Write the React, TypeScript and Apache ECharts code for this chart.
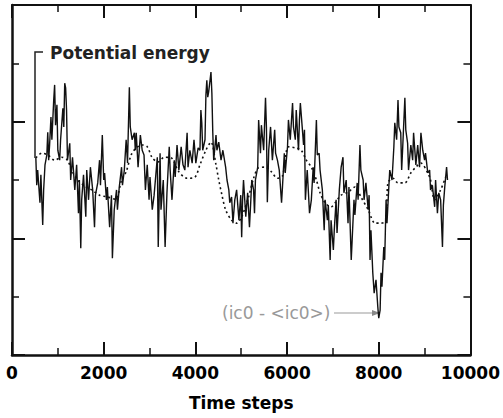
import React, { useEffect, useRef } from "react";
import * as echarts from "echarts";

const xTicks = [0, 2000, 4000, 6000, 8000, 10000];

const peSteps = [
  520, 540, 560, 610, 630, 670, 690, 720, 760, 780, 800, 820, 850, 870, 910, 930, 950, 980, 1000, 1040,
  1060, 1110, 1130, 1150, 1170, 1190, 1210, 1260, 1280, 1320, 1370, 1410, 1450, 1470, 1500, 1520, 1560, 1610, 1630, 1670,
  1710, 1760, 1800, 1820, 1870, 1910, 1930, 1970, 2000, 2020, 2060, 2080, 2130, 2170, 2190, 2230, 2280, 2300, 2340, 2390,
  2410, 2450, 2490, 2520, 2560, 2580, 2620, 2670, 2690, 2710, 2750, 2800, 2840, 2880, 2910, 2950, 2990, 3010, 3060, 3100,
  3170, 3190, 3230, 3250, 3300, 3340, 3380, 3430, 3450, 3490, 3540, 3560, 3600, 3640, 3690, 3730, 3770, 3820, 3840, 3880,
  3930, 3970, 4010, 4060, 4100, 4120, 4140, 4160, 4210, 4230, 4250, 4270, 4290, 4320, 4340, 4360, 4380, 4400, 4450, 4470,
  4510, 4560, 4600, 4660, 4690, 4730, 4750, 4790, 4820, 4860, 4900, 4950, 4990, 5010, 5030, 5050, 5100, 5140, 5180, 5210,
  5230, 5270, 5290, 5310, 5360, 5380, 5420, 5440, 5490, 5530, 5550, 5570, 5600, 5640, 5680, 5730, 5750, 5790, 5830, 5880,
  5900, 5940, 5960, 6010, 6030, 6070, 6120, 6140, 6180, 6200, 6250, 6270, 6290, 6330, 6360, 6380, 6400, 6440, 6490, 6530,
  6570, 6590, 6640, 6660, 6700, 6720, 6770, 6810, 6830, 6880, 6900, 6940, 6960, 7010, 7030, 7070, 7090, 7140, 7180, 7220,
  7240, 7290, 7330, 7350, 7400, 7420, 7460, 7480, 7530, 7550, 7590, 7610, 7660, 7680, 7720, 7770, 7790, 7810, 7830, 7870,
  7900, 7940, 7980, 8000, 8030, 8050, 8070, 8110, 8130, 8160, 8180, 8220, 8240, 8290, 8330, 8350, 8390, 8420, 8440, 8480,
  8500, 8520, 8570, 8590, 8630, 8650, 8700, 8740, 8760, 8810, 8850, 8890, 8920, 8960, 9000, 9020, 9070, 9110, 9130, 9170,
  9220, 9240, 9280, 9310, 9350, 9390, 9410, 9440, 9480, 9500,
];
const peValues = [
  3.38, 2.91, 3.17, 2.61, 3.09, 2.23, 2.83, 3.26, 3.43, 3.82, 3.34, 3.6, 4.08, 3.69, 4.37, 4.63, 3.94, 4.29, 3.51, 3.34,
  3.69, 4.23, 3.91, 4.66, 4.58, 4.2, 3.34, 3.63, 3.0, 3.39, 2.83, 3.26, 2.43, 3.0, 1.83, 2.66, 3.09, 2.37, 3.17, 2.66,
  3.22, 2.83, 2.19, 2.74, 2.95, 3.34, 2.91, 3.77, 3.0, 3.12, 2.66, 2.88, 2.19, 2.74, 1.66, 2.49, 2.83, 2.49, 2.88, 3.22,
  2.91, 3.17, 3.69, 3.29, 4.59, 3.91, 3.69, 3.81, 3.51, 3.81, 3.22, 3.77, 3.51, 3.43, 2.83, 3.26, 2.66, 3.05, 2.49, 2.74,
  3.39, 1.85, 3.46, 2.49, 3.0, 1.85, 2.78, 3.57, 3.17, 2.66, 3.34, 3.05, 3.6, 3.17, 3.57, 3.26, 3.17, 3.81, 3.22, 3.51,
  3.29, 3.69, 3.29, 3.55, 3.51, 4.2, 3.98, 3.51, 3.69, 4.46, 4.71, 4.42, 4.51, 4.71, 4.85, 4.49, 3.81, 3.34, 3.77, 3.51,
  3.65, 3.34, 3.51, 3.22, 3.0, 2.83, 2.61, 2.71, 2.26, 2.66, 2.83, 2.31, 2.74, 2.02, 2.66, 3.0, 2.37, 2.78, 2.19, 2.66,
  3.0, 2.83, 2.43, 3.0, 3.22, 4.03, 3.46, 3.94, 3.51, 4.41, 3.91, 2.62, 3.51, 3.91, 3.34, 3.86, 3.46, 3.34, 3.17, 2.61,
  2.88, 3.46, 3.12, 3.57, 4.03, 3.69, 4.32, 3.91, 3.69, 4.2, 3.51, 4.03, 4.32, 3.91, 3.6, 3.86, 2.66, 3.17, 2.43, 2.66,
  3.22, 2.95, 4.03, 3.43, 3.46, 3.17, 2.83, 2.14, 2.66, 2.31, 2.57, 1.63, 2.31, 1.8, 2.14, 2.66, 2.09, 2.83, 3.22, 3.39,
  2.78, 3.0, 2.26, 2.88, 1.63, 1.97, 2.66, 2.4, 2.95, 2.66, 3.6, 3.17, 3.0, 2.66, 2.95, 2.49, 2.74, 1.63, 2.14, 1.41,
  1.06, 1.29, 0.82, 0.63, 0.77, 1.41, 1.17, 1.85, 1.63, 2.66, 2.26, 2.88, 3.17, 3.0, 3.57, 3.98, 3.69, 4.37, 3.91, 3.81,
  3.17, 3.51, 4.41, 3.86, 3.63, 3.17, 3.6, 3.34, 3.81, 3.26, 3.6, 3.22, 3.81, 3.51, 3.34, 3.46, 3.12, 3.17, 2.83, 2.91,
  2.54, 3.0, 2.43, 2.78, 2.66, 1.85, 2.57, 2.88, 3.22, 3.0,
];

const avgSteps = [
  520, 650, 780, 930, 1080, 1210, 1300, 1430, 1580, 1740, 1910, 2080, 2260, 2390, 2490, 2600, 2710, 2840, 2950, 3060,
  3190, 3320, 3470, 3640, 3820, 3990, 4100, 4230, 4340, 4450, 4510, 4580, 4660, 4790, 4900, 5010, 5160, 5270, 5380, 5530,
  5660, 5790, 5900, 6030, 6180, 6310, 6420, 6530, 6640, 6720, 6830, 6960, 7050, 7180, 7330, 7480, 7610, 7770, 7920, 8050,
  8160, 8200, 8310, 8420, 8570, 8700, 8810, 8920, 9070, 9130, 9220, 9350, 9460,
];
const avgValues = [
  3.38, 3.46, 3.43, 3.34, 3.39, 3.34, 3.17, 3.0, 2.9, 2.83, 2.74, 2.71, 2.67, 3.0, 3.14, 3.43, 3.55, 3.6, 3.57, 3.38,
  3.31, 3.39, 3.38, 3.14, 3.03, 3.05, 3.26, 3.51, 3.65, 3.26, 3.0, 2.74, 2.49, 2.31, 2.26, 2.37, 2.71, 3.03, 3.21, 3.22,
  3.14, 3.03, 3.07, 3.57, 3.55, 3.51, 3.34, 3.22, 3.0, 2.78, 2.61, 2.54, 2.61, 2.74, 2.79, 2.88, 2.71, 2.49, 2.26, 2.26,
  2.3, 2.95, 3.03, 2.95, 2.95, 3.12, 3.22, 3.29, 3.12, 3.0, 2.66, 2.83, 3.05,
];

const FONT = "DejaVu Sans";

export default function App() {
  const ref = useRef<HTMLDivElement>(null);
  useEffect(() => {
    if (!ref.current) return;
    const chart = echarts.init(ref.current, null, { renderer: "svg" });
    const peData = peSteps.map((s, i) => [s, peValues[i]]);
    const avgData = avgSteps.map((s, i) => [s, avgValues[i]]);
    const axisCommon = {
      type: "value" as const,
      axisLine: { show: true, onZero: false, lineStyle: { color: "#111", width: 2.5 } },
      axisTick: { show: true, inside: true, length: 13, lineStyle: { color: "#111", width: 2 } },
      minorTick: { show: true, splitNumber: 2, length: 7, lineStyle: { color: "#111", width: 1.5 } },
      splitLine: { show: false },
      minorSplitLine: { show: false },
    };
    chart.setOption({
      animation: false,
      backgroundColor: "#fff",
      grid: { left: 12, right: 30, top: 5, bottom: 63, containLabel: false },
      xAxis: [
        {
          ...axisCommon,
          position: "bottom",
          min: 0,
          max: 10000,
          interval: 2000,
          axisLabel: {
            show: true,
            margin: 9,
            color: "#000",
            fontFamily: FONT,
            fontWeight: "bold",
            fontSize: 17,
            formatter: (v: number) => (xTicks.includes(v) ? String(v) : ""),
          },
          name: "Time steps",
          nameLocation: "middle",
          nameGap: 39,
          nameTextStyle: { color: "#000", fontFamily: FONT, fontWeight: "bold", fontSize: 17 },
        },
        {
          ...axisCommon,
          position: "top",
          min: 0,
          max: 10000,
          interval: 2000,
          axisLine: { show: true, onZero: false, lineStyle: { color: "#111", width: 2 } },
          axisLabel: { show: false },
        },
      ],
      yAxis: [
        {
          ...axisCommon,
          position: "left",
          min: 0,
          max: 6,
          interval: 2,
          axisLabel: { show: false },
        },
        {
          ...axisCommon,
          position: "right",
          min: 0,
          max: 6,
          interval: 2,
          axisLine: { show: true, onZero: false, lineStyle: { color: "#111", width: 2 } },
          axisLabel: { show: false },
        },
      ],
      series: [
        {
          type: "line",
          name: "Potential energy",
          data: peData,
          showSymbol: false,
          symbol: "none",
          lineStyle: { color: "#111", width: 1.4 },
          z: 3,
        },
        {
          type: "line",
          name: "average",
          data: avgData,
          showSymbol: false,
          symbol: "none",
          smooth: 0.3,
          lineStyle: { color: "#111", width: 1.6, type: [2, 3] },
          z: 2,
        },
      ],
      graphic: [
        {
          type: "polyline",
          shape: { points: [[43, 52], [35, 52], [35, 158]] },
          style: { stroke: "#222", lineWidth: 1.5, fill: null },
        },
        {
          type: "text",
          x: 50,
          y: 53,
          style: {
            text: "Potential energy",
            fill: "#222",
            font: `bold 17px "${FONT}"`,
            textVerticalAlign: "middle",
          },
        },
        {
          type: "text",
          x: 222,
          y: 313,
          style: {
            text: "(ic0 - <ic0>)",
            fill: "#999",
            font: `17px "${FONT}"`,
            textVerticalAlign: "middle",
          },
        },
        {
          type: "line",
          shape: { x1: 334, y1: 313, x2: 376, y2: 313 },
          style: { stroke: "#999", lineWidth: 1 },
        },
        {
          type: "polygon",
          shape: { points: [[380, 313], [372, 310], [372, 316]] },
          style: { fill: "#888" },
        },
      ],
    });
    return () => chart.dispose();
  }, []);
  return (
    <div
      ref={ref}
      style={{ position: "absolute", left: 0, top: 0, width: 503, height: 418 }}
    />
  );
}
